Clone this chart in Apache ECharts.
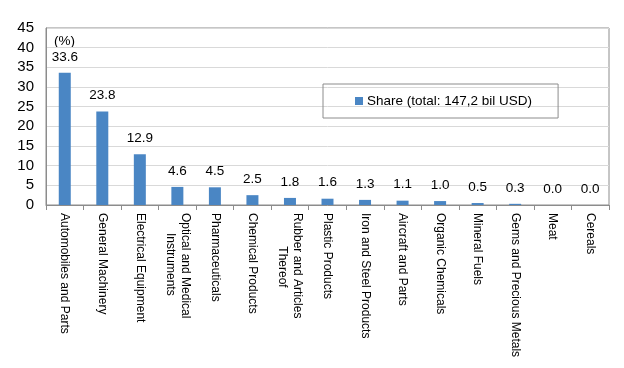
<!DOCTYPE html>
<html>
<head>
<meta charset="utf-8">
<script src="https://cdn.jsdelivr.net/npm/echarts@6/dist/echarts.min.js"></script>
<style>
html,body{margin:0;padding:0;background:#fff;}
#chart{width:624px;height:368px;}
</style>
</head>
<body>
<div id="chart"></div>
<script>
const categories = [
  'Automobiles and Parts',
  'General Machinery',
  'Electrical Equipment',
  'Optical and Medical\n      Instruments',
  'Pharmaceuticals',
  'Chemical Products',
  'Rubber and Articles\n          Thereof',
  'Plastic Products',
  'Iron and Steel Products',
  'Aircraft and Parts',
  'Organic Chemicals',
  'Mineral Fuels',
  'Gems and Precious Metals',
  'Meat',
  'Cereals'
];
const shareValues = [33.6, 23.8, 12.9, 4.6, 4.5, 2.5, 1.8, 1.6, 1.3, 1.1, 1.0, 0.5, 0.3, 0.0, 0.0];
const seriesName = 'Share (total: 147,2 bil USD)';
const unitLabel = '(%)';
const yMin = 0, yMax = 45, yStep = 5;

const FONT = '"Liberation Sans", Arial, sans-serif';
const chart = echarts.init(document.getElementById('chart'));
chart.setOption({
  animation: false,
  textStyle: { fontFamily: FONT },
  grid: { left: 46, right: 15, top: 28, bottom: 163, outerBoundsMode: 'none', containLabel: false,
          show: true, borderColor: '#8c8c8c', borderWidth: 1 },
  legend: {
    data: [seriesName],
    left: 323, top: 84,
    padding: [10, 26, 10, 32],
    borderColor: '#8c8c8c', borderWidth: 1,
    itemWidth: 8, itemHeight: 8, itemGap: 4,
    icon: 'rect',
    textStyle: { fontFamily: FONT, fontSize: 13.5, color: '#000', padding: [0,0,0,-1] }
  },
  graphic: [{
    type: 'text', left: 54, top: 34,
    style: { text: unitLabel, font: '13.5px ' + FONT, fill: '#000' }
  }],
  xAxis: {
    type: 'category',
    data: categories,
    axisLine: { lineStyle: { color: '#8c8c8c' } },
    axisTick: { show: true, length: 5, lineStyle: { color: '#8c8c8c' } },
    axisLabel: { rotate: -90, interval: 0, margin: 8, fontSize: 12, color: '#000', fontFamily: FONT, lineHeight: 15 }
  },
  yAxis: {
    type: 'value', min: yMin, max: yMax, interval: yStep,
    axisLine: { show: true, lineStyle: { color: '#8c8c8c' } },
    axisTick: { show: false },
    axisLabel: { fontSize: 15, color: '#000', margin: 12, fontFamily: FONT },
    splitLine: { lineStyle: { color: '#d9d9d9', width: 1 } }
  },
  series: [{
    name: seriesName,
    type: 'bar',
    data: shareValues,
    barWidth: 12,
    itemStyle: { color: '#4a86c4' },
    label: {
      show: true, position: 'top', distance: 9,
      fontSize: 13.5, color: '#000', fontFamily: FONT,
      formatter: p => p.value.toFixed(1)
    }
  }]
});
</script>
</body>
</html>
